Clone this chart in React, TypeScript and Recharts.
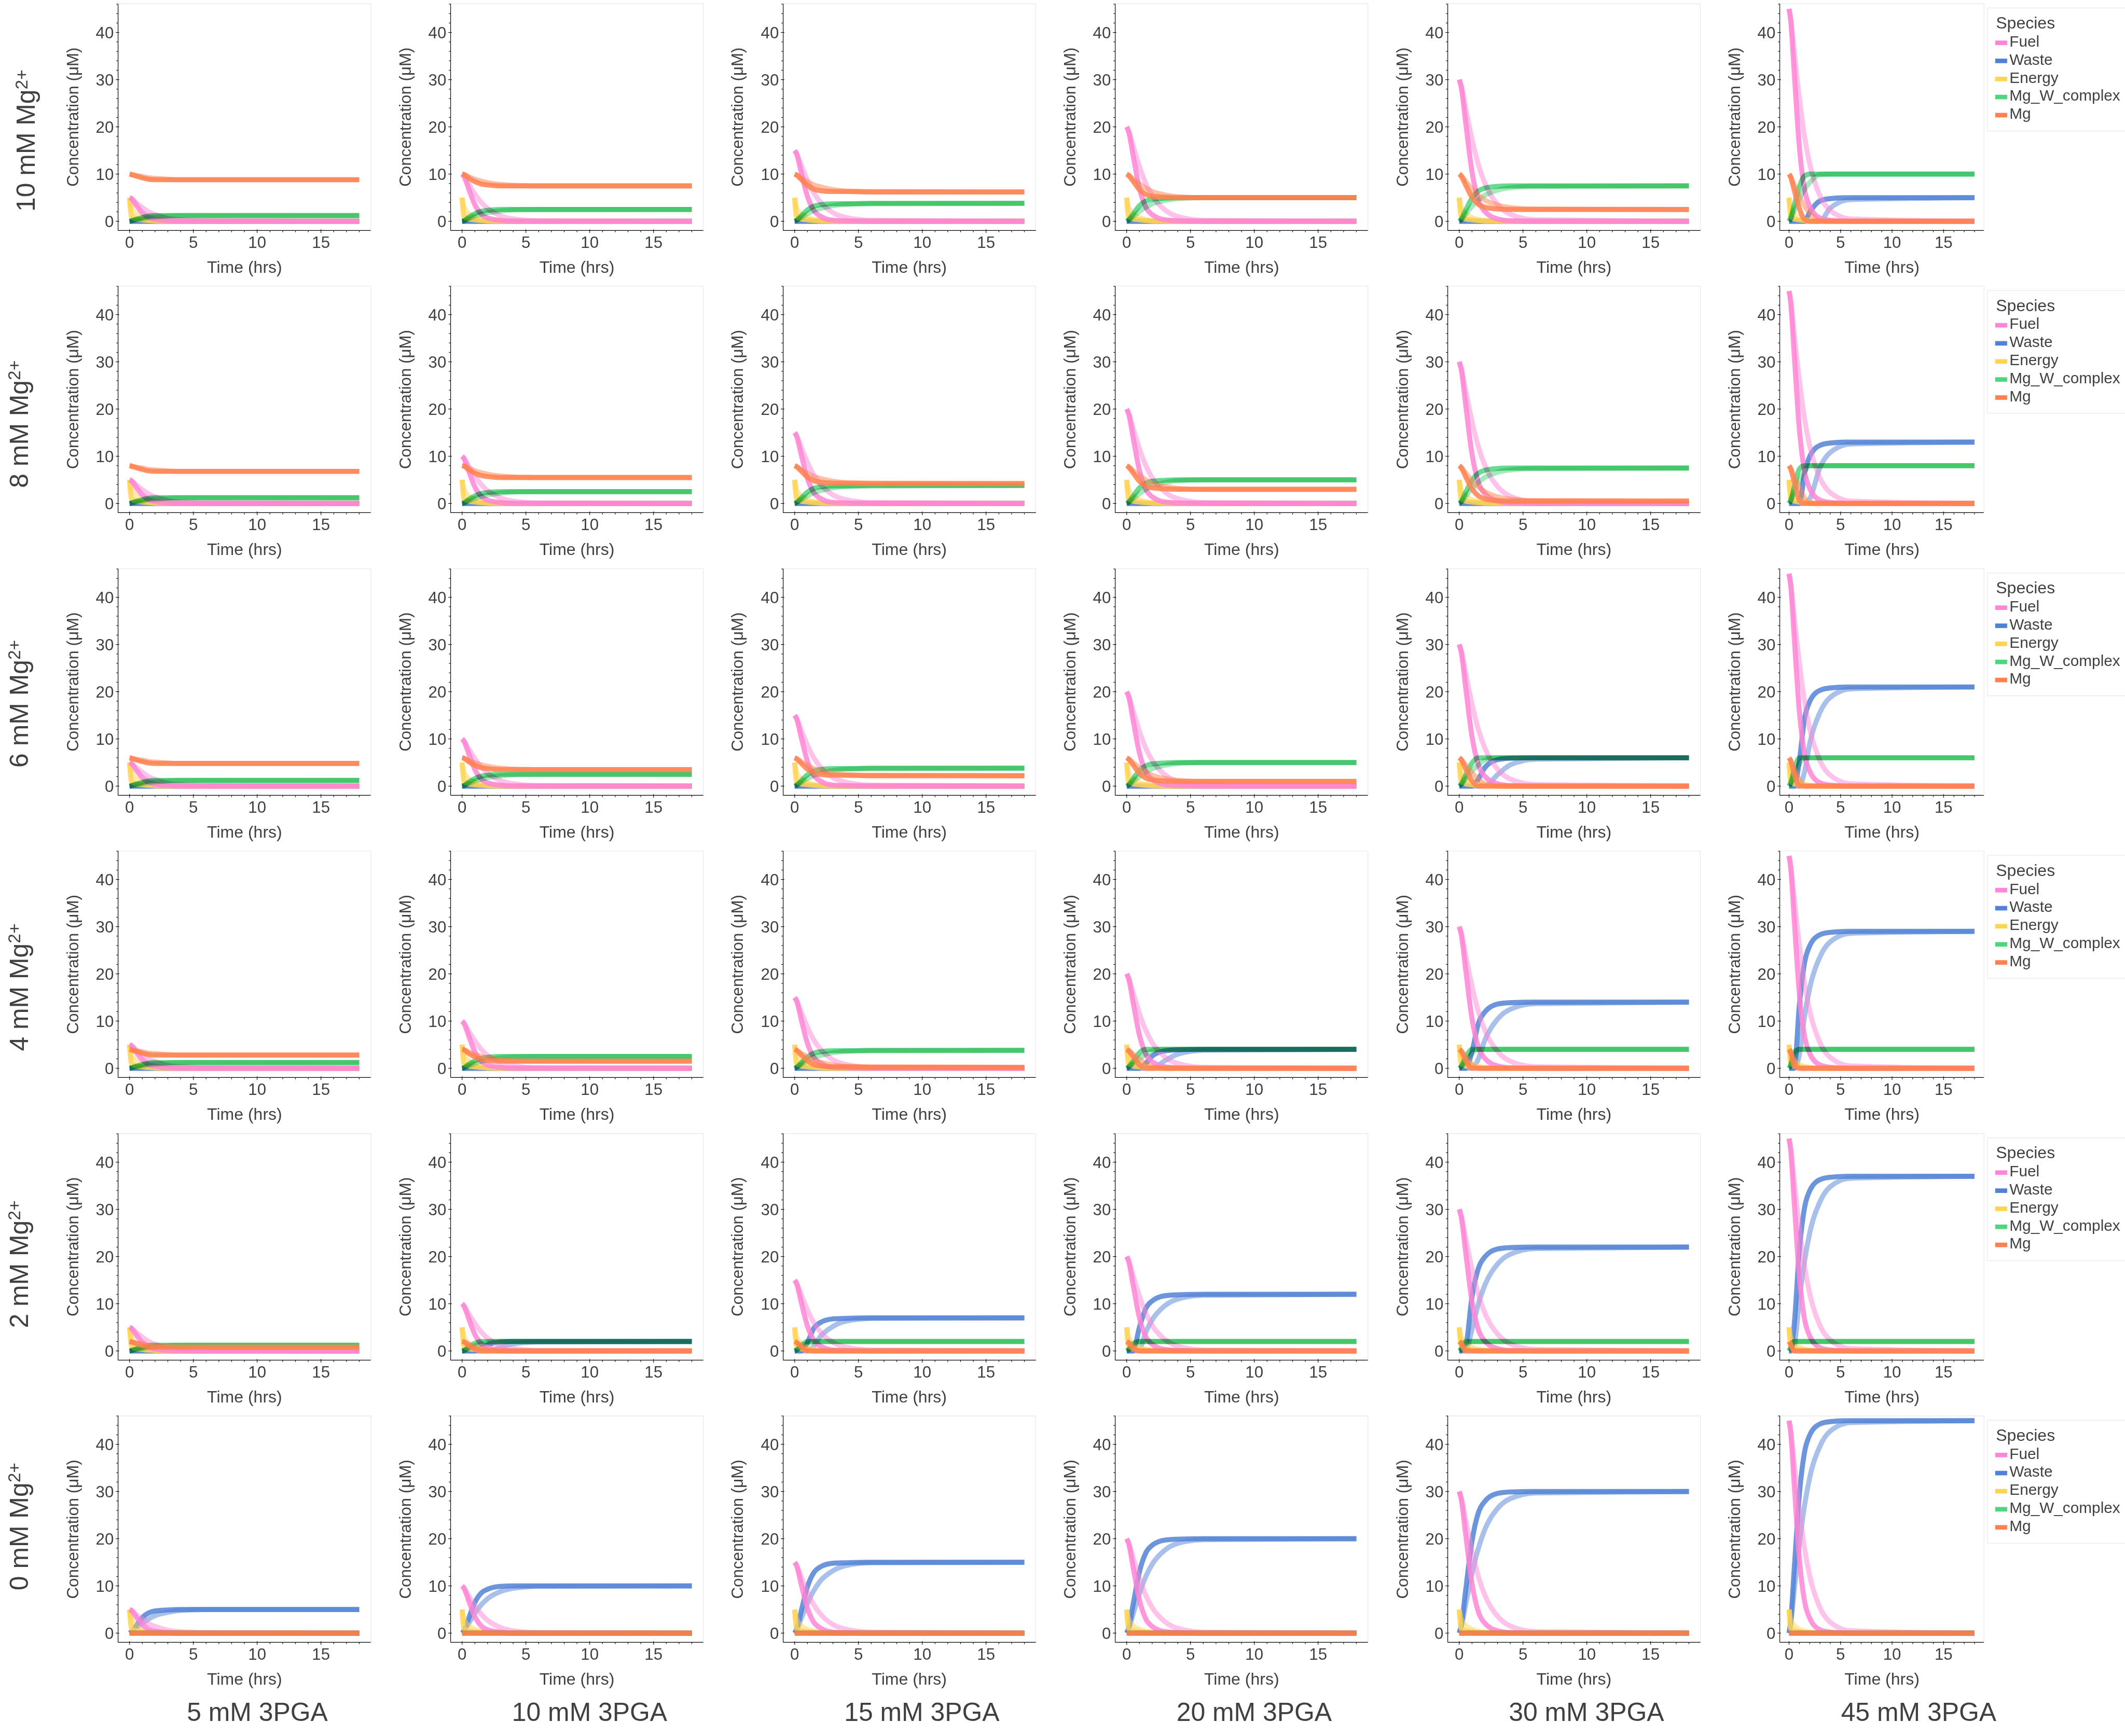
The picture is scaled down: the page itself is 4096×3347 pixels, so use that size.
import React from 'react';
import { LineChart, Line, XAxis, YAxis } from 'recharts';

// reference is 5500 px wide, the page is 4096
const S = 4096 / 5500;
const FONT = '"Liberation Sans", Arial, Helvetica, sans-serif';
const INK = '#404040';

const TIME = [0, 0.15, 0.5, 1, 1.5, 2, 3, 4, 6, 18];
const PGA_MM = [5, 10, 15, 20, 30, 45];
const MG_MM = [10, 8, 6, 4, 2, 0];
const X_TICKS = [0, 1, 2, 3, 4, 5, 6, 7, 8, 9, 10, 11, 12, 13, 14, 15, 16, 17, 18];
const Y_TICKS = [0, 2, 4, 6, 8, 10, 12, 14, 16, 18, 20, 22, 24, 26, 28, 30, 32, 34, 36, 38, 40, 42, 44, 46];

const SPECIES = ['Fuel', 'Waste', 'Energy', 'Mg_W_complex', 'Mg'];
const COLORS = ['#ff85d6', '#5282d6', '#ffd452', '#50d47f', '#ff8150'];
// paint order: waste, energy, fuel, complex (multiplied), Mg
const DRAW_ORDER = [1, 2, 0, 3, 4];

const Z = [0, 0, 0, 0, 0, 0, 0, 0, 0, 0];

// fuel depends on the 3PGA column only
const FUEL_FAST = [
  [5, 4.8, 3.5, 1.8, 0.8, 0.4, 0.1, 0, 0, 0],
  [10, 9.5, 7, 3.5, 1.5, 0.7, 0.2, 0, 0, 0],
  [15, 14.3, 10.5, 5.3, 2.3, 1.1, 0.2, 0.1, 0, 0],
  [20, 19, 14, 7, 3, 1.4, 0.3, 0.1, 0, 0],
  [30, 28.5, 21, 10.5, 4.5, 2.1, 0.5, 0.1, 0, 0],
  [45, 42.8, 31.5, 15.8, 6.8, 3.2, 0.7, 0.2, 0, 0],
];
const FUEL_SLOW = [
  [5, 4.8, 4, 2.9, 2, 1.4, 0.6, 0.3, 0.1, 0],
  [10, 9.6, 8, 5.8, 4, 2.7, 1.2, 0.5, 0.1, 0],
  [15, 14.4, 12, 8.7, 6, 4.1, 1.8, 0.8, 0.2, 0],
  [20, 19.2, 16, 11.6, 8, 5.4, 2.4, 1, 0.2, 0],
  [30, 28.8, 24, 17.4, 12, 8.1, 3.6, 1.5, 0.3, 0],
  [45, 43.2, 36, 26.1, 18, 12.2, 5.4, 2.3, 0.5, 0],
];

const ENERGY_FAST = [5, 1, 0.5, 0.3, 0.15, 0.05, 0, 0, 0, 0];
const ENERGY_SLOW = [5, 3, 1.6, 0.8, 0.4, 0.2, 0.05, 0, 0, 0];

// [Mg row][3PGA column]
const WASTE_FAST = [
  [Z, Z, Z, Z, Z, [0, 0, 0, 0, 0, 1.9, 4.3, 4.8, 5, 5]],
  [Z, Z, Z, Z, Z, [0, 0, 0, 0, 6.3, 9.9, 12.3, 12.8, 13, 13]],
  [Z, Z, Z, Z, [0, 0, 0, 0, 1.5, 3.9, 5.6, 5.9, 6, 6], [0, 0, 0, 5.3, 14.3, 17.9, 20.3, 20.8, 21, 21]],
  [Z, Z, Z, [0, 0, 0, 0, 1, 2.6, 3.7, 3.9, 4, 4], [0, 0, 0, 3.5, 9.5, 11.9, 13.6, 13.9, 14, 14], [0, 0, 0, 13.3, 22.3, 25.9, 28.3, 28.8, 29, 29]],
  [Z, [0, 0, 0, 0, 0.5, 1.3, 1.9, 2, 2, 2], [0, 0, 0, 1.8, 4.8, 6, 6.8, 6.9, 7, 7], [0, 0, 0, 5, 9, 10.6, 11.7, 11.9, 12, 12], [0, 0, 1, 11.5, 17.5, 19.9, 21.6, 21.9, 22, 22], [0, 0, 5.5, 21.3, 30.3, 33.9, 36.3, 36.8, 37, 37]],
  [[0, 0.3, 1.5, 3.3, 4.3, 4.7, 4.9, 5, 5, 5], [0, 0.5, 3, 6.5, 8.5, 9.3, 9.9, 10, 10, 10], [0, 0.8, 4.5, 9.8, 12.8, 14, 14.8, 14.9, 15, 15], [0, 1, 6, 13, 17, 18.6, 19.7, 19.9, 20, 20], [0, 1.5, 9, 19.5, 25.5, 27.9, 29.6, 29.9, 30, 30], [0, 2.3, 13.5, 29.3, 38.3, 41.9, 44.3, 44.8, 45, 45]],
];
const WASTE_SLOW = [
  [Z, Z, Z, Z, Z, [0, 0, 0, 0, 0, 0, 0, 2.8, 4.6, 5]],
  [Z, Z, Z, Z, Z, [0, 0, 0, 0, 0, 0.9, 7.6, 10.8, 12.6, 13]],
  [Z, Z, Z, Z, [0, 0, 0, 0, 0, 0, 2.4, 4.5, 5.7, 6], [0, 0, 0, 0, 3, 8.9, 15.6, 18.8, 20.6, 21]],
  [Z, Z, Z, [0, 0, 0, 0, 0, 0, 1.6, 3, 3.8, 4], [0, 0, 0, 0, 2, 5.9, 10.4, 12.5, 13.7, 14], [0, 0, 0, 2.9, 11, 16.9, 23.6, 26.8, 28.6, 29]],
  [Z, [0, 0, 0, 0, 0, 0, 0.8, 1.5, 1.9, 2], [0, 0, 0, 0, 1, 3, 5.2, 6.3, 6.9, 7], [0, 0, 0, 0.4, 4, 6.6, 9.6, 11, 11.8, 12], [0, 0, 0, 4.6, 10, 13.9, 18.4, 20.5, 21.7, 22], [0, 0, 1, 10.9, 19, 24.9, 31.6, 34.8, 36.6, 37]],
  [[0, 0.2, 1, 2.1, 3, 3.7, 4.4, 4.8, 5, 5], [0, 0.4, 2, 4.2, 6, 7.3, 8.8, 9.5, 9.9, 10], [0, 0.6, 3, 6.3, 9, 11, 13.2, 14.3, 14.9, 15], [0, 0.8, 4, 8.4, 12, 14.6, 17.6, 19, 19.8, 20], [0, 1.2, 6, 12.6, 18, 21.9, 26.4, 28.5, 29.7, 30], [0, 1.8, 9, 18.9, 27, 32.9, 39.6, 42.8, 44.6, 45]],
];

const MGW_FAST = [
  [[0, 0.1, 0.4, 0.8, 1.1, 1.2, 1.2, 1.2, 1.2, 1.2], [0, 0.1, 0.8, 1.6, 2.1, 2.3, 2.5, 2.5, 2.5, 2.5], [0, 0.2, 1.1, 2.4, 3.2, 3.5, 3.7, 3.7, 3.8, 3.8], [0, 0.3, 1.5, 3.3, 4.3, 4.7, 4.9, 5, 5, 5], [0, 0.4, 2.3, 4.9, 6.4, 7, 7.4, 7.5, 7.5, 7.5], [0, 0.6, 3.4, 7.3, 9.6, 10, 10, 10, 10, 10]],
  [[0, 0.1, 0.4, 0.8, 1.1, 1.2, 1.2, 1.2, 1.2, 1.2], [0, 0.1, 0.8, 1.6, 2.1, 2.3, 2.5, 2.5, 2.5, 2.5], [0, 0.2, 1.1, 2.4, 3.2, 3.5, 3.7, 3.7, 3.8, 3.8], [0, 0.3, 1.5, 3.3, 4.3, 4.7, 4.9, 5, 5, 5], [0, 0.4, 2.3, 4.9, 6.4, 7, 7.4, 7.5, 7.5, 7.5], [0, 0.6, 3.4, 7.3, 8, 8, 8, 8, 8, 8]],
  [[0, 0.1, 0.4, 0.8, 1.1, 1.2, 1.2, 1.2, 1.2, 1.2], [0, 0.1, 0.8, 1.6, 2.1, 2.3, 2.5, 2.5, 2.5, 2.5], [0, 0.2, 1.1, 2.4, 3.2, 3.5, 3.7, 3.7, 3.8, 3.8], [0, 0.3, 1.5, 3.3, 4.3, 4.7, 4.9, 5, 5, 5], [0, 0.4, 2.3, 4.9, 6, 6, 6, 6, 6, 6], [0, 0.6, 3.4, 6, 6, 6, 6, 6, 6, 6]],
  [[0, 0.1, 0.4, 0.8, 1.1, 1.2, 1.2, 1.2, 1.2, 1.2], [0, 0.1, 0.8, 1.6, 2.1, 2.3, 2.5, 2.5, 2.5, 2.5], [0, 0.2, 1.1, 2.4, 3.2, 3.5, 3.7, 3.7, 3.8, 3.8], [0, 0.3, 1.5, 3.3, 4, 4, 4, 4, 4, 4], [0, 0.4, 2.3, 4, 4, 4, 4, 4, 4, 4], [0, 0.6, 3.4, 4, 4, 4, 4, 4, 4, 4]],
  [[0, 0.1, 0.4, 0.8, 1.1, 1.2, 1.2, 1.2, 1.2, 1.2], [0, 0.1, 0.8, 1.6, 2, 2, 2, 2, 2, 2], [0, 0.2, 1.1, 2, 2, 2, 2, 2, 2, 2], [0, 0.3, 1.5, 2, 2, 2, 2, 2, 2, 2], [0, 0.4, 2, 2, 2, 2, 2, 2, 2, 2], [0, 0.6, 2, 2, 2, 2, 2, 2, 2, 2]],
  [Z, Z, Z, Z, Z, Z],
];
const MGW_SLOW = [
  [[0, 0.1, 0.3, 0.5, 0.8, 0.9, 1.1, 1.2, 1.2, 1.2], [0, 0.1, 0.5, 1.1, 1.5, 1.8, 2.2, 2.4, 2.5, 2.5], [0, 0.2, 0.8, 1.6, 2.3, 2.7, 3.3, 3.6, 3.7, 3.8], [0, 0.2, 1, 2.1, 3, 3.7, 4.4, 4.8, 5, 5], [0, 0.3, 1.5, 3.2, 4.5, 5.5, 6.6, 7.1, 7.4, 7.5], [0, 0.5, 2.3, 4.7, 6.8, 8.2, 9.9, 10, 10, 10]],
  [[0, 0.1, 0.3, 0.5, 0.8, 0.9, 1.1, 1.2, 1.2, 1.2], [0, 0.1, 0.5, 1.1, 1.5, 1.8, 2.2, 2.4, 2.5, 2.5], [0, 0.2, 0.8, 1.6, 2.3, 2.7, 3.3, 3.6, 3.7, 3.8], [0, 0.2, 1, 2.1, 3, 3.7, 4.4, 4.8, 5, 5], [0, 0.3, 1.5, 3.2, 4.5, 5.5, 6.6, 7.1, 7.4, 7.5], [0, 0.5, 2.3, 4.7, 6.8, 8, 8, 8, 8, 8]],
  [[0, 0.1, 0.3, 0.5, 0.8, 0.9, 1.1, 1.2, 1.2, 1.2], [0, 0.1, 0.5, 1.1, 1.5, 1.8, 2.2, 2.4, 2.5, 2.5], [0, 0.2, 0.8, 1.6, 2.3, 2.7, 3.3, 3.6, 3.7, 3.8], [0, 0.2, 1, 2.1, 3, 3.7, 4.4, 4.8, 5, 5], [0, 0.3, 1.5, 3.2, 4.5, 5.5, 6, 6, 6, 6], [0, 0.5, 2.3, 4.7, 6, 6, 6, 6, 6, 6]],
  [[0, 0.1, 0.3, 0.5, 0.8, 0.9, 1.1, 1.2, 1.2, 1.2], [0, 0.1, 0.5, 1.1, 1.5, 1.8, 2.2, 2.4, 2.5, 2.5], [0, 0.2, 0.8, 1.6, 2.3, 2.7, 3.3, 3.6, 3.7, 3.8], [0, 0.2, 1, 2.1, 3, 3.7, 4, 4, 4, 4], [0, 0.3, 1.5, 3.2, 4, 4, 4, 4, 4, 4], [0, 0.5, 2.3, 4, 4, 4, 4, 4, 4, 4]],
  [[0, 0.1, 0.3, 0.5, 0.8, 0.9, 1.1, 1.2, 1.2, 1.2], [0, 0.1, 0.5, 1.1, 1.5, 1.8, 2, 2, 2, 2], [0, 0.2, 0.8, 1.6, 2, 2, 2, 2, 2, 2], [0, 0.2, 1, 2, 2, 2, 2, 2, 2, 2], [0, 0.3, 1.5, 2, 2, 2, 2, 2, 2, 2], [0, 0.5, 2, 2, 2, 2, 2, 2, 2, 2]],
  [Z, Z, Z, Z, Z, Z],
];

const MG_FAST = [
  [[10, 9.9, 9.6, 9.2, 8.9, 8.8, 8.8, 8.8, 8.8, 8.8], [10, 9.9, 9.2, 8.4, 7.9, 7.7, 7.5, 7.5, 7.5, 7.5], [10, 9.8, 8.9, 7.6, 6.8, 6.5, 6.3, 6.3, 6.2, 6.2], [10, 9.7, 8.5, 6.7, 5.7, 5.3, 5.1, 5, 5, 5], [10, 9.6, 7.7, 5.1, 3.6, 3, 2.6, 2.5, 2.5, 2.5], [10, 9.4, 6.6, 2.7, 0.4, 0, 0, 0, 0, 0]],
  [[8, 7.9, 7.6, 7.2, 6.9, 6.8, 6.8, 6.8, 6.8, 6.8], [8, 7.9, 7.2, 6.4, 5.9, 5.7, 5.5, 5.5, 5.5, 5.5], [8, 7.8, 6.9, 5.6, 4.8, 4.5, 4.3, 4.3, 4.2, 4.2], [8, 7.7, 6.5, 4.7, 3.7, 3.3, 3.1, 3, 3, 3], [8, 7.6, 5.7, 3.1, 1.6, 1, 0.6, 0.5, 0.5, 0.5], [8, 7.4, 4.6, 0.7, 0, 0, 0, 0, 0, 0]],
  [[6, 5.9, 5.6, 5.2, 4.9, 4.8, 4.8, 4.8, 4.8, 4.8], [6, 5.9, 5.2, 4.4, 3.9, 3.7, 3.5, 3.5, 3.5, 3.5], [6, 5.8, 4.9, 3.6, 2.8, 2.5, 2.3, 2.3, 2.2, 2.2], [6, 5.7, 4.5, 2.7, 1.7, 1.3, 1.1, 1, 1, 1], [6, 5.6, 3.7, 1.1, 0, 0, 0, 0, 0, 0], [6, 5.4, 2.6, 0, 0, 0, 0, 0, 0, 0]],
  [[4, 3.9, 3.6, 3.2, 2.9, 2.8, 2.8, 2.8, 2.8, 2.8], [4, 3.9, 3.2, 2.4, 1.9, 1.7, 1.5, 1.5, 1.5, 1.5], [4, 3.8, 2.9, 1.6, 0.8, 0.5, 0.3, 0.3, 0.2, 0.2], [4, 3.7, 2.5, 0.7, 0, 0, 0, 0, 0, 0], [4, 3.6, 1.7, 0, 0, 0, 0, 0, 0, 0], [4, 3.4, 0.6, 0, 0, 0, 0, 0, 0, 0]],
  [[2, 1.9, 1.6, 1.2, 0.9, 0.8, 0.8, 0.8, 0.8, 0.8], [2, 1.9, 1.2, 0.4, 0, 0, 0, 0, 0, 0], [2, 1.8, 0.9, 0, 0, 0, 0, 0, 0, 0], [2, 1.7, 0.5, 0, 0, 0, 0, 0, 0, 0], [2, 1.6, 0, 0, 0, 0, 0, 0, 0, 0], [2, 1.4, 0, 0, 0, 0, 0, 0, 0, 0]],
  [Z, Z, Z, Z, Z, Z],
];
const MG_SLOW = [
  [[10, 9.9, 9.7, 9.5, 9.2, 9.1, 8.9, 8.8, 8.8, 8.8], [10, 9.9, 9.5, 8.9, 8.5, 8.2, 7.8, 7.6, 7.5, 7.5], [10, 9.8, 9.2, 8.4, 7.7, 7.3, 6.7, 6.4, 6.3, 6.2], [10, 9.8, 9, 7.9, 7, 6.3, 5.6, 5.2, 5, 5], [10, 9.7, 8.5, 6.8, 5.5, 4.5, 3.4, 2.9, 2.6, 2.5], [10, 9.5, 7.7, 5.3, 3.2, 1.8, 0.1, 0, 0, 0]],
  [[8, 7.9, 7.7, 7.5, 7.2, 7.1, 6.9, 6.8, 6.8, 6.8], [8, 7.9, 7.5, 6.9, 6.5, 6.2, 5.8, 5.6, 5.5, 5.5], [8, 7.8, 7.2, 6.4, 5.7, 5.3, 4.7, 4.4, 4.3, 4.2], [8, 7.8, 7, 5.9, 5, 4.3, 3.6, 3.2, 3, 3], [8, 7.7, 6.5, 4.8, 3.5, 2.5, 1.4, 0.9, 0.6, 0.5], [8, 7.5, 5.7, 3.3, 1.2, 0, 0, 0, 0, 0]],
  [[6, 5.9, 5.7, 5.5, 5.2, 5.1, 4.9, 4.8, 4.8, 4.8], [6, 5.9, 5.5, 4.9, 4.5, 4.2, 3.8, 3.6, 3.5, 3.5], [6, 5.8, 5.2, 4.4, 3.7, 3.3, 2.7, 2.4, 2.3, 2.2], [6, 5.8, 5, 3.9, 3, 2.3, 1.6, 1.2, 1, 1], [6, 5.7, 4.5, 2.8, 1.5, 0.5, 0, 0, 0, 0], [6, 5.5, 3.7, 1.3, 0, 0, 0, 0, 0, 0]],
  [[4, 3.9, 3.7, 3.5, 3.2, 3.1, 2.9, 2.8, 2.8, 2.8], [4, 3.9, 3.5, 2.9, 2.5, 2.2, 1.8, 1.6, 1.5, 1.5], [4, 3.8, 3.2, 2.4, 1.7, 1.3, 0.7, 0.4, 0.3, 0.2], [4, 3.8, 3, 1.9, 1, 0.3, 0, 0, 0, 0], [4, 3.7, 2.5, 0.8, 0, 0, 0, 0, 0, 0], [4, 3.5, 1.7, 0, 0, 0, 0, 0, 0, 0]],
  [[2, 1.9, 1.7, 1.5, 1.2, 1.1, 0.9, 0.8, 0.8, 0.8], [2, 1.9, 1.5, 0.9, 0.5, 0.2, 0, 0, 0, 0], [2, 1.8, 1.2, 0.4, 0, 0, 0, 0, 0, 0], [2, 1.8, 1, 0, 0, 0, 0, 0, 0, 0], [2, 1.7, 0.5, 0, 0, 0, 0, 0, 0, 0], [2, 1.5, 0, 0, 0, 0, 0, 0, 0, 0]],
  [Z, Z, Z, Z, Z, Z],
];

// layout, in reference pixels
const PLOT_LEFT0 = 306;
const COL_PITCH = 860.2;
const PLOT_W = 654;
const PLOT_W_LAST = 528;
const PLOT_TOP0 = 9.6;
const ROW_PITCH = 731.2;
const PLOT_H = 586.8;
const YW = 80;
const XH = 70;
const MT = 10;
const MR = 10;
const LINE_W = 13;

const XTick = (props: any) => {
  const { x, y, payload } = props;
  const v = payload.value;
  const major = v % 5 === 0;
  return (
    <g>
      <line x1={x} x2={x} y1={y - (major ? 3 : 0) * S} y2={y + (major ? 6 : 4.5) * S} stroke="#000" strokeWidth={1.5 * S} />
      {major && (
        <text x={x} y={y + 44.7 * S} textAnchor="middle" fontSize={42 * S} fill={INK} fontFamily={FONT}>
          {v}
        </text>
      )}
    </g>
  );
};

const YTick = (props: any) => {
  const { x, y, payload } = props;
  const v = payload.value;
  const major = v % 10 === 0;
  return (
    <g>
      <line x1={x - (major ? 6 : 4.5) * S} x2={x + (major ? 3 : 0) * S} y1={y} y2={y} stroke="#000" strokeWidth={1.5 * S} />
      {major && (
        <text x={x - 11 * S} y={y} dy="0.36em" textAnchor="end" fontSize={42 * S} fill={INK} fontFamily={FONT}>
          {v}
        </text>
      )}
    </g>
  );
};

function Panel({ row, col }: { row: number; col: number }) {
  const left = PLOT_LEFT0 + col * COL_PITCH;
  const top = PLOT_TOP0 + row * ROW_PITCH;
  const w = col === 5 ? PLOT_W_LAST : PLOT_W;
  const runs = [
    [FUEL_SLOW[col], FUEL_FAST[col]],
    [WASTE_SLOW[row][col], WASTE_FAST[row][col]],
    [ENERGY_SLOW, ENERGY_FAST],
    [MGW_SLOW[row][col], MGW_FAST[row][col]],
    [MG_SLOW[row][col], MG_FAST[row][col]],
  ];
  const data = TIME.map((t, i) => {
    const d: any = { t };
    runs.forEach((pair, s) => {
      d[`s${s}b`] = pair[0][i];
      d[`s${s}a`] = pair[1][i];
    });
    return d;
  });

  return (
    <div style={{ position: 'absolute', left: (left - YW) * S, top: (top - MT) * S }}>
      <LineChart
        width={(YW + w + MR) * S}
        height={(MT + PLOT_H + XH) * S}
        data={data}
        margin={{ top: MT * S, right: MR * S, left: 0, bottom: 0 }}
      >
        <XAxis
          dataKey="t"
          type="number"
          domain={[-0.9, 18.9]}
          ticks={X_TICKS}
          interval={0}
          tick={<XTick />}
          tickLine={false}
          tickSize={0}
          tickMargin={0}
          axisLine={{ stroke: '#000', strokeWidth: 1.6 * S }}
          height={XH * S}
          allowDataOverflow
        />
        <YAxis
          type="number"
          domain={[-1.96, 46.06]}
          ticks={Y_TICKS}
          interval={0}
          tick={<YTick />}
          tickLine={false}
          tickSize={0}
          tickMargin={0}
          axisLine={{ stroke: '#000', strokeWidth: 1.6 * S }}
          width={YW * S}
          allowDataOverflow
        />
        {DRAW_ORDER.map((s) =>
          ['b', 'a'].map((run) => (
            <Line
              key={`${SPECIES[s]}-${run}`}
              className={s === 3 ? 'mgw-line' : undefined}
              dataKey={`s${s}${run}`}
              type="monotone"
              stroke={COLORS[s]}
              strokeWidth={LINE_W * S}
              strokeOpacity={run === 'a' ? 0.85 : 0.5}
              strokeLinejoin="round"
              dot={false}
              activeDot={false}
              isAnimationActive={false}
            />
          ))
        )}
      </LineChart>
    </div>
  );
}

function Overlay() {
  const items: React.ReactNode[] = [];
  MG_MM.forEach((mg, r) => {
    const top = PLOT_TOP0 + r * ROW_PITCH;
    PGA_MM.forEach((pga, c) => {
      const left = PLOT_LEFT0 + c * COL_PITCH;
      const w = c === 5 ? PLOT_W_LAST : PLOT_W;
      items.push(
        <path
          key={`f${r}-${c}`}
          d={`M${left * S},${top * S}H${(left + w) * S}V${(top + PLOT_H) * S}`}
          fill="none"
          stroke="#e6e6e6"
          strokeWidth={1.5 * S}
        />
      );
      items.push(
        <text
          key={`yl${r}-${c}`}
          transform={`translate(${(left - 103) * S},${(top + PLOT_H / 2) * S}) rotate(-90)`}
          textAnchor="middle"
          fontSize={42 * S}
          fill={INK}
        >
          Concentration (μM)
        </text>
      );
      items.push(
        <text key={`xl${r}-${c}`} x={(left + w / 2) * S} y={(top + PLOT_H + 109.3) * S} textAnchor="middle" fontSize={43 * S} fill={INK}>
          Time (hrs)
        </text>
      );
    });

    // row label
    const rowY = [364, 1098, 1822, 2556, 3273, 3952][r];
    const rowX = r === 0 ? 90 : 72;
    items.push(
      <text key={`rl${r}`} transform={`translate(${rowX * S},${rowY * S}) rotate(-90)`} textAnchor="middle" fontSize={67 * S} fill={INK}>
        {`${mg} mM Mg`}
        <tspan dy={-19 * S} fontSize={45 * S}>2+</tspan>
      </text>
    );

    // legend
    const ly = r * ROW_PITCH;
    items.push(
      <g key={`lg${r}`}>
        <rect x={5144 * S} y={(20.7 + ly) * S} width={420 * S} height={318.3 * S} fill="#fff" stroke="#e6e6e6" strokeWidth={1.5 * S} />
        <text x={5166 * S} y={(74 + ly) * S} fontSize={43 * S} fill={INK}>Species</text>
        {SPECIES.map((sp, k) => {
          const base = 120.7 + k * 46.8 + ly;
          return (
            <g key={sp}>
              <rect x={5164 * S} y={(base - 15.7) * S} width={31 * S} height={11.7 * S} fill={COLORS[k]} />
              <text x={5201 * S} y={base * S} fontSize={40 * S} fill={INK}>{sp}</text>
            </g>
          );
        })}
      </g>
    );
  });

  PGA_MM.forEach((pga, c) => {
    items.push(
      <text key={`cl${c}`} x={(666 + 860 * c) * S} y={4455 * S} textAnchor="middle" fontSize={67 * S} fill={INK}>
        {`${pga} mM 3PGA`}
      </text>
    );
  });

  return (
    <svg width={4096} height={3347} style={{ position: 'absolute', left: 0, top: 0 }} fontFamily={FONT}>
      {items}
    </svg>
  );
}

export default function App() {
  return (
    <div style={{ position: 'absolute', left: 0, top: 0, width: 4096, height: 3347, background: '#fff', overflow: 'hidden', fontFamily: FONT }}>
      <style>{'.mgw-line .recharts-line-curve { mix-blend-mode: multiply; }'}</style>
      <Overlay />
      {MG_MM.map((_, r) => PGA_MM.map((__, c) => <Panel key={`${r}-${c}`} row={r} col={c} />))}
    </div>
  );
}
